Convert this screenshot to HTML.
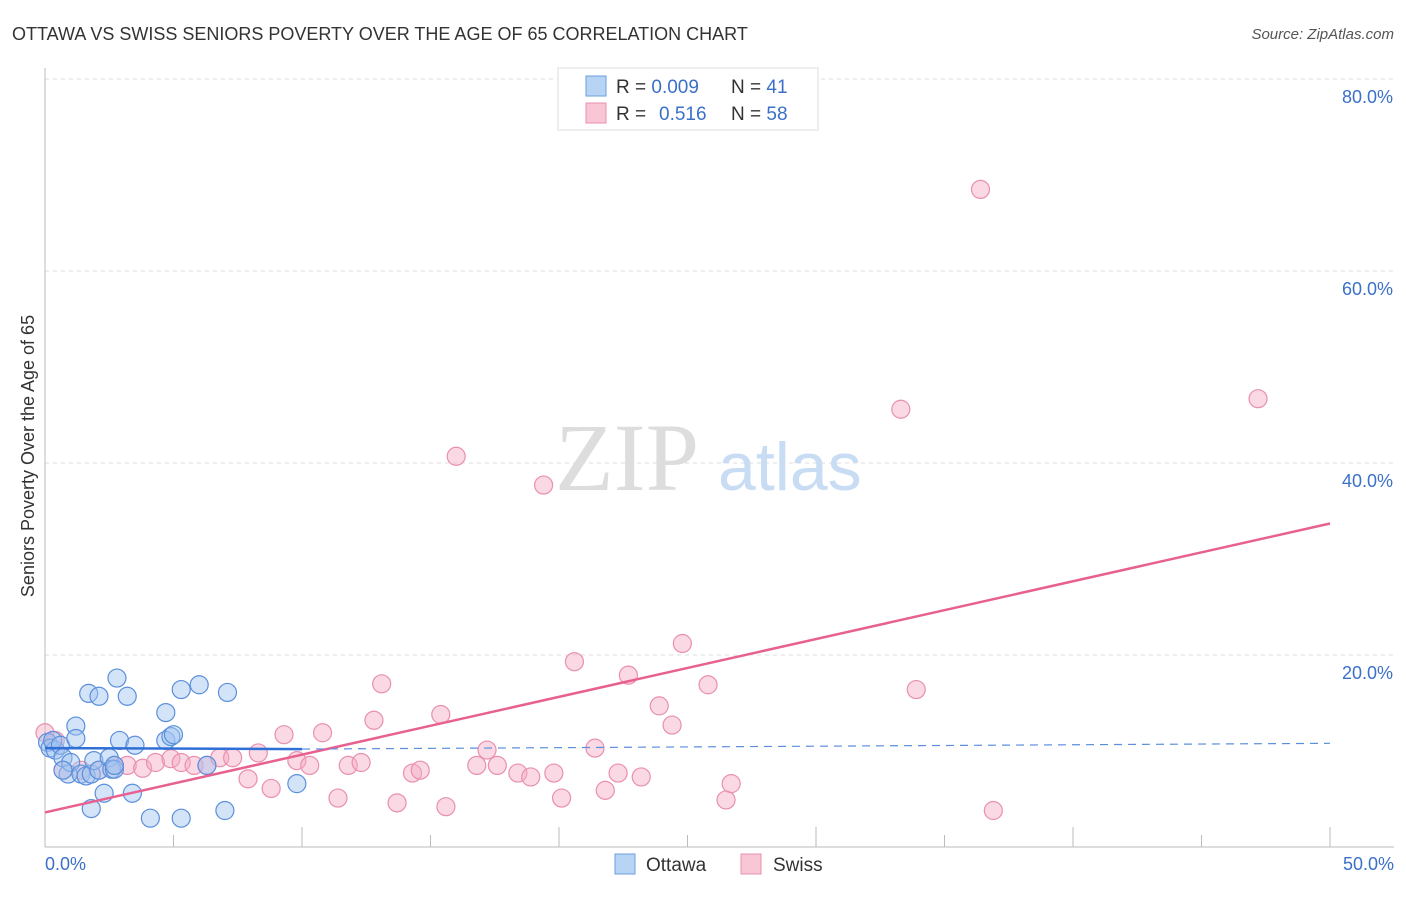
<!DOCTYPE html>
<html><head><meta charset="utf-8"><style>
body{margin:0;background:#fff;font-family:"Liberation Sans",sans-serif;}
</style></head><body>
<svg width="1406" height="892" xmlns="http://www.w3.org/2000/svg">
<text x="12" y="40" font-size="18" fill="#333">OTTAWA VS SWISS SENIORS POVERTY OVER THE AGE OF 65 CORRELATION CHART</text>
<text x="1394" y="39" font-size="15" fill="#555" text-anchor="end" font-style="italic">Source: ZipAtlas.com</text>
<g id="grid"></g>
<g id="axes"></g>
<text x="555" y="490" font-size="96" fill="#ddd" font-family="Liberation Serif">ZIP</text>
<text x="718" y="490" font-size="68" fill="#c8dcf4">atlas</text>
<g id="pts"></g>
<g id="lines"></g>
<text transform="translate(34,456) rotate(-90)" font-size="18" fill="#333" text-anchor="middle">Seniors Poverty Over the Age of 65</text>
<text x="45" y="870" font-size="18" fill="#3b70c8">0.0%</text>
<text x="1394" y="870" font-size="18" fill="#3b70c8" text-anchor="end">50.0%</text>
<g>
<rect x="558" y="68" width="260" height="62" fill="#fff" stroke="#ddd"/>
<rect x="586" y="76" width="20" height="20" fill="#b8d4f4" stroke="#6a9ee0"/>
<rect x="586" y="103" width="20" height="20" fill="#f9c6d6" stroke="#e890ad"/>
<text x="616" y="93" font-size="19" fill="#333">R = <tspan fill="#3b70c8">0.009</tspan><tspan x="731">N = </tspan><tspan fill="#3b70c8">41</tspan></text>
<text x="616" y="120" font-size="19" fill="#333">R = <tspan x="659" fill="#3b70c8">0.516</tspan><tspan x="731">N = </tspan><tspan fill="#3b70c8">58</tspan></text>
</g>
<g>
<rect x="615" y="854" width="20" height="20" fill="#b8d4f4" stroke="#6a9ee0"/>
<text x="646" y="871" font-size="19" fill="#333">Ottawa</text>
<rect x="741" y="854" width="20" height="20" fill="#f9c6d6" stroke="#e890ad"/>
<text x="773" y="871" font-size="19" fill="#333">Swiss</text>
</g>
</svg>
<script>
const yTicks=[20,40,60,80];
const yTickLabels=["20.0%","40.0%","60.0%","80.0%"];
const ottawaX=[0.1,0.2,0.4,0.3,0.6,0.7,0.9,1.0,1.2,1.2,1.4,1.6,1.7,1.8,1.9,2.1,2.1,2.3,2.5,2.6,2.7,2.8,2.9,3.2,3.4,3.5,4.1,4.7,4.7,4.9,5.0,5.3,5.3,6.0,6.3,7.0,7.1,9.8,0.7,1.8,2.7];
const ottawaY=[10.9,10.3,10.1,11.1,10.6,9.3,7.6,8.8,12.6,11.3,7.6,7.4,16.0,7.6,9.0,15.7,8.0,5.6,9.3,8.1,8.1,17.6,11.1,15.7,5.6,10.6,3.0,14.0,11.1,11.5,11.7,16.4,3.0,16.9,8.5,3.8,16.1,6.6,8.0,4.0,8.5];
const swissX=[0.0,0.4,0.7,1.4,2.1,2.7,3.2,3.8,4.3,4.9,5.3,5.8,6.3,6.8,7.3,7.9,8.3,8.8,9.3,9.8,10.3,10.8,11.4,11.8,12.3,12.8,13.1,13.7,14.3,14.6,15.4,15.6,16.0,16.8,17.2,17.6,18.4,18.9,19.4,19.8,20.1,20.6,21.4,21.8,22.3,22.7,23.2,23.9,24.4,24.8,25.8,26.5,26.7,33.3,33.9,36.4,36.9,47.2];
const swissY=[11.9,11.1,8.0,8.0,8.0,8.5,8.5,8.2,8.8,9.2,8.8,8.5,8.5,9.3,9.3,7.1,9.8,6.1,11.7,9.0,8.5,11.9,5.1,8.5,8.8,13.2,17.0,4.6,7.7,8.0,13.8,4.2,40.7,8.5,10.1,8.5,7.7,7.3,37.7,7.7,5.1,19.3,10.3,5.9,7.7,17.9,7.3,14.7,12.7,21.2,16.9,4.9,6.6,45.6,16.4,68.5,3.8,46.7];
const X0=45,X1=1330,Y0=847,PX_PER=9.6;
const sx=v=>X0+(v/50)*(X1-X0), sy=v=>Y0-v*PX_PER;
const NS="http://www.w3.org/2000/svg";
function mk(t,a,p){const e=document.createElementNS(NS,t);for(const k in a)e.setAttribute(k,a[k]);p.appendChild(e);return e;}
const grid=document.getElementById('grid'),axes=document.getElementById('axes');
yTicks.forEach((t,i)=>{
 const l=mk('line',{x1:45,x2:1394,y1:sy(t),y2:sy(t),stroke:'#ddd','stroke-dasharray':'4,4'},grid);
 
 
 const tx=mk('text',{x:1393,y:sy(t)+24,'font-size':18,fill:'#3b70c8','text-anchor':'end'},grid);
 tx.textContent=yTickLabels[i];
 
 
});
mk('line',{x1:45,x2:45,y1:68,y2:847,stroke:'#bbb'},axes);
mk('line',{x1:45,x2:1394,y1:847,y2:847,stroke:'#bbb'},axes);
for(let i=0;i<=10;i++){const x=sx(i*5);const t=mk('line',{x1:x,x2:x,y1:847,y2:i%2?835:827,stroke:'#bbb'},axes);
 
 }
const pts=document.getElementById('pts');
swissX.forEach((x,i)=>{const c=mk('circle',{cx:sx(x),cy:sy(swissY[i]),r:9,fill:'rgba(245,170,195,0.45)',stroke:'#e98fb0','stroke-width':1.2},pts);
 
 });
ottawaX.forEach((x,i)=>{const c=mk('circle',{cx:sx(x),cy:sy(ottawaY[i]),r:9,fill:'rgba(160,195,240,0.45)',stroke:'#5b8fdc','stroke-width':1.2},pts);
 
 });
const lines=document.getElementById('lines');
const sw=mk('line',{x1:sx(0),y1:sy(3.6),x2:sx(50),y2:sy(33.7),stroke:'#e8608f','stroke-width':2.5},lines);


const ob=mk('line',{x1:sx(0),y1:sy(10.3),x2:sx(10),y2:sy(10.2),stroke:'#2f6fd6','stroke-width':2.5},lines);


const od=mk('line',{x1:sx(10),y1:sy(10.2),x2:sx(50),y2:sy(10.8),stroke:'#5b8fdc','stroke-width':1.2,'stroke-dasharray':'8,6'},lines);


</script>
</body></html>
